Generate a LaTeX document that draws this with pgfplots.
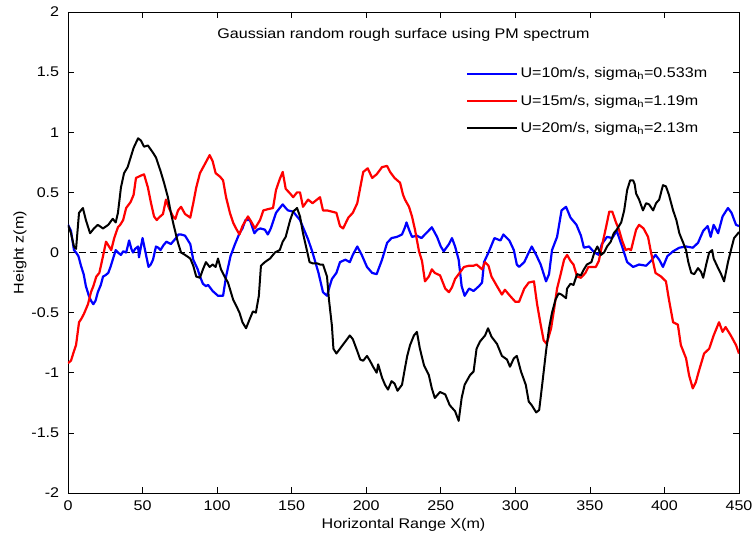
\documentclass[border=0pt]{standalone}
\usepackage{fontspec}
\setmainfont{Liberation Sans}[FakeStretch=1.15]
\usepackage{pgfplots}
\pgfplotsset{compat=1.18}
\definecolor{mblue}{RGB}{0,0,255}
\definecolor{mred}{RGB}{255,0,0}
\begin{document}
\fontsize{14}{16}\selectfont
\begin{tikzpicture}
\begin{axis}[
  at={(0pt,0pt)}, anchor=south west,
  scale only axis, width=671pt, height=481pt,
  xmin=0, xmax=450, ymin=-2, ymax=2,
  xtick={0,50,...,450}, ytick={-2,-1.5,...,2},
  tick align=inside, major tick length=6pt,
  tick style={line width=0.6pt, black},
  axis line style={line width=0.8pt},
  ticklabel style={font=\fontsize{14}{16}\selectfont},
  xticklabel style={yshift=-3pt},
  yticklabel style={/pgf/number format/fixed, xshift=-4pt},
  /pgf/number format/assume math mode=true,
  xlabel={Horizontal Range X(m)},
  ylabel={Height z(m)},
  label style={font=\fontsize{14}{16}\selectfont},
  xlabel style={at={(axis description cs:0.5,0)}, anchor=center, yshift=-32pt},
  ylabel style={at={(axis description cs:-0.0715,0.5)}, anchor=center},
  legend style={draw=none, fill=none, at={(axis cs:265,1.572)}, anchor=north west,
    row sep=11pt, font=\fontsize{14}{16}\selectfont},
  legend cell align=left,
  legend image code/.code={\draw[#1] (0pt,0pt) -- (50pt,0pt);},
]
\addplot[black, line width=0.7pt, dash pattern=on 7pt off 4pt, forget plot] coordinates {(0,0)(450,0)};
\addplot[mblue, line width=2.2pt, line join=round] coordinates {
(0,0.23)(2,0.18)(4,0.02)(5.4,0)(7,-0.03)(8.7,-0.11)(10.5,-0.18)(12,-0.28)(14,-0.36)(15.4,-0.40)(17,-0.43)(18.5,-0.40)(20,-0.33)(22,-0.27)(23.5,-0.2)(25,-0.19)(27,-0.17)(28.5,-0.12)(30,-0.06)(32,0.02)(33.5,0)(35.5,-0.02)(37,0.01)(39,0)(41,0.1)(42.5,0.03)(43.6,0)(45,0.03)(47,0.05)(47.6,-0.04)(50,0.12)(52,0)(54,-0.12)(55.5,-0.1)(57,-0.06)(59,0.05)(60.5,0.04)(62,0.02)(64,0.06)(66,0.09)(69,0.07)(72.4,0.12)(74,0.15)(75.8,0.15)(78.5,0.14)(80.5,0.1)(82,0.07)(84,-0.06)(87,-0.14)(88.5,-0.2)(90.5,-0.26)(92.5,-0.28)(94,-0.27)(97,-0.32)(100.6,-0.36)(104,-0.36)(106,-0.2)(109,-0.03)(112,0.07)(115,0.16)(117,0.2)(119,0.27)(122,0.27)(125,0.16)(127,0.19)(129,0.2)(132,0.19)(134,0.15)(136,0.2)(139.5,0.33)(142,0.37)(144,0.4)(146,0.37)(147.5,0.35)(151,0.34)(153.6,0.30)(155.6,0.27)(157.6,0.21)(161,0.11)(164,0)(168,-0.17)(171,-0.33)(173.7,-0.36)(175.5,-0.28)(177,-0.22)(180,-0.17)(182.4,-0.08)(186,-0.06)(189,-0.08)(191,-0.02)(194,0.05)(197,-0.02)(200.5,-0.12)(204,-0.17)(207,-0.18)(210.6,-0.06)(214,0.08)(217,0.12)(220.6,0.13)(224,0.15)(226,0.21)(227,0.25)(229,0.18)(230.7,0.13)(234,0.14)(237,0.12)(241,0.17)(244,0.21)(247.5,0.13)(250,0.05)(252,0.01)(255.5,0.07)(257.5,0.12)(259.6,0.05)(262,-0.06)(264,-0.28)(266,-0.36)(269,-0.3)(272,-0.32)(275.6,-0.28)(277.7,-0.25)(279,-0.08)(282,0)(286,0.12)(290,0.1)(292,0.15)(296,0.1)(299,0.02)(301,-0.1)(302.5,-0.12)(306,-0.08)(309,0)(311,0.05)(314,-0.02)(317,-0.1)(320.6,-0.24)(322.6,-0.18)(324.6,0.02)(328,0.13)(331,0.35)(334,0.38)(337,0.29)(341,0.23)(344,0.14)(346,0.04)(349.4,0.05)(353,0)(356,-0.02)(358,0.07)(361.5,0.13)(365,0.12)(368,0.18)(371.6,0.05)(375,-0.08)(379,-0.12)(383,-0.1)(387.7,-0.11)(391,-0.07)(394,-0.02)(396.5,-0.06)(399,-0.12)(402,-0.03)(405.8,0.01)(410,0.04)(414.5,0.05)(419,0.04)(422.5,0.08)(426,0.18)(429,0.22)(431,0.13)(433,0.23)(436,0.16)(439,0.3)(442.6,0.37)(445,0.33)(448,0.23)(450,0.22)
};
\addlegendentry{U=10m/s, sigma\textsubscript{h}=0.533m}
\addplot[mred, line width=2.2pt, line join=round] coordinates {
(0,-0.92)(2,-0.9)(4,-0.82)(5.4,-0.77)(7.4,-0.58)(9,-0.55)(10.7,-0.51)(13.4,-0.43)(15.4,-0.33)(17,-0.28)(19,-0.2)(21,-0.17)(23.5,-0.03)(25.5,0.09)(27.5,0.05)(29,0.02)(31,0.12)(33.5,0.21)(35,0.23)(37,0.27)(39,0.37)(42,0.42)(44,0.48)(45.6,0.62)(49,0.64)(51,0.65)(53.6,0.54)(55.7,0.41)(57.7,0.30)(59.5,0.27)(61,0.29)(63.7,0.32)(65.7,0.44)(67.7,0.37)(70.4,0.3)(72,0.28)(73.8,0.35)(75.8,0.38)(78.5,0.32)(82,0.29)(84,0.41)(86,0.54)(88.5,0.66)(92,0.74)(95,0.81)(97,0.76)(99,0.66)(102,0.63)(104,0.6)(106,0.46)(108.6,0.33)(110.7,0.25)(112.7,0.2)(115,0.15)(117,0.22)(120.7,0.3)(122.7,0.26)(125.4,0.2)(128.8,0.27)(131,0.35)(134,0.36)(137.5,0.37)(139.5,0.52)(142,0.61)(144,0.67)(146,0.53)(149,0.49)(151,0.46)(153.6,0.5)(155.6,0.5)(157.6,0.38)(161,0.44)(164,0.41)(167,0.44)(169,0.46)(171,0.35)(173.7,0.35)(177,0.34)(180,0.33)(182.4,0.22)(184.5,0.2)(188,0.29)(191,0.33)(194,0.41)(196,0.54)(198,0.67)(201,0.7)(204,0.62)(207,0.65)(210.6,0.71)(214,0.72)(216,0.67)(219,0.62)(222.7,0.58)(224.7,0.48)(226,0.44)(228.7,0.38)(230.7,0.3)(232.7,0.19)(235.4,0.01)(237.4,-0.07)(239.4,-0.24)(242,-0.2)(244,-0.14)(246,-0.17)(249.5,-0.19)(253,-0.3)(255.5,-0.33)(257.5,-0.29)(259.6,-0.22)(262,-0.18)(265.6,-0.12)(269,-0.11)(272,-0.11)(274,-0.1)(277.7,-0.14)(279.7,-0.08)(282,-0.11)(284,-0.2)(287.7,-0.28)(291,-0.35)(293,-0.31)(296.4,-0.36)(300,-0.41)(302.5,-0.41)(306,-0.3)(309,-0.25)(312.5,-0.24)(314.6,-0.43)(317,-0.6)(319,-0.73)(321,-0.76)(324,-0.63)(326,-0.47)(328,-0.3)(330.6,-0.17)(332.7,-0.06)(334.7,-0.02)(337,-0.07)(339,-0.1)(341.4,-0.2)(344,-0.21)(347,-0.17)(349,-0.12)(351.4,-0.12)(354,-0.12)(356,-0.07)(358,0.05)(361,0.22)(363,0.34)(365,0.34)(367.5,0.25)(369.5,0.19)(371.6,0.1)(374,0.02)(376,0.03)(377.6,0.02)(381,0.19)(383,0.23)(386,0.2)(389,0.13)(391,0)(394,-0.17)(397.7,-0.2)(401,-0.24)(403,-0.39)(405.8,-0.58)(409,-0.6)(411,-0.77)(414.5,-0.88)(416.5,-1.02)(419,-1.13)(421,-1.08)(423,-0.99)(426.6,-0.84)(430,-0.8)(433,-0.69)(436.6,-0.58)(439,-0.66)(441,-0.62)(444.5,-0.69)(448,-0.77)(450,-0.84)
};
\addlegendentry{U=15m/s, sigma\textsubscript{h}=1.19m}
\addplot[black, line width=2.0pt, line join=round] coordinates {
(0,0.23)(2,0.16)(4,0.05)(5.4,0.03)(7.4,0.33)(10,0.37)(12,0.27)(14.8,0.16)(17.4,0.2)(20,0.23)(23.5,0.2)(27,0.23)(30,0.28)(32,0.25)(33.5,0.33)(35.5,0.54)(37.6,0.66)(40,0.71)(42,0.79)(44,0.87)(47,0.95)(49,0.93)(51,0.88)(53.6,0.89)(57,0.83)(59,0.79)(62,0.68)(64.4,0.58)(67,0.46)(69,0.33)(71,0.22)(73.8,0.08)(75.8,0)(78.5,-0.02)(82,-0.05)(84,-0.11)(86,-0.2)(88.5,-0.21)(90.5,-0.14)(92.5,-0.08)(95,-0.12)(97,-0.1)(99,-0.12)(100.6,-0.05)(102.6,-0.14)(105,-0.2)(107.3,-0.25)(110.7,-0.39)(112.7,-0.44)(115,-0.5)(117,-0.58)(119.4,-0.63)(122,-0.55)(124,-0.49)(126,-0.5)(128,-0.36)(129.4,-0.11)(132,-0.08)(135.5,-0.05)(138.8,0)(142,0.02)(144,0.09)(146,0.13)(149,0.27)(151,0.34)(153.6,0.37)(155.6,0.3)(157.6,0.16)(160,0.03)(162,-0.08)(164,-0.09)(167,-0.09)(169,-0.1)(171,-0.1)(173.7,-0.2)(175,-0.39)(177,-0.61)(178,-0.8)(180,-0.84)(182.4,-0.8)(186,-0.74)(189,-0.69)(191,-0.72)(194,-0.82)(196,-0.89)(198,-0.9)(200.5,-0.86)(202.5,-0.9)(204.6,-0.95)(207,-1.0)(208,-0.93)(210.6,-1.04)(212.6,-1.1)(214.6,-1.14)(217,-1.07)(219,-1.09)(221,-1.15)(224,-1.1)(226,-0.96)(227.5,-0.86)(229.4,-0.77)(232,-0.69)(234,-0.66)(236,-0.8)(238.8,-0.94)(242,-1.02)(244,-1.13)(246,-1.21)(249.5,-1.16)(253,-1.18)(256,-1.27)(259.6,-1.32)(262,-1.4)(264,-1.21)(266,-1.1)(269.6,-1.02)(272,-0.99)(274,-0.8)(276.3,-0.74)(279.7,-0.69)(281.7,-0.63)(284,-0.7)(287.7,-0.76)(291,-0.86)(294.4,-0.89)(296.4,-0.95)(299,-0.88)(301,-0.86)(303.8,-0.99)(307,-1.1)(309,-1.24)(311,-1.27)(314,-1.33)(316,-1.31)(318,-1.1)(320.6,-0.82)(322.6,-0.63)(324.6,-0.5)(327,-0.39)(329,-0.34)(331,-0.35)(334,-0.38)(334.7,-0.3)(337,-0.26)(339,-0.27)(341.4,-0.18)(344,-0.19)(346,-0.14)(348,-0.1)(351,-0.08)(353,0)(355,0.05)(357.5,-0.02)(359.5,0)(361.5,0.05)(364,0.09)(366,0.16)(368,0.19)(371,0.25)(373,0.35)(375,0.52)(377,0.6)(379,0.6)(380,0.57)(381,0.49)(383,0.44)(385.6,0.35)(387.7,0.41)(389.7,0.4)(392.4,0.35)(394.4,0.41)(396.5,0.44)(399,0.56)(401,0.55)(403,0.48)(405.8,0.35)(408,0.27)(410,0.16)(412.6,0.08)(414.5,0.02)(416,-0.08)(418,-0.17)(420,-0.18)(422.5,-0.13)(424.5,-0.16)(426,-0.21)(428,-0.1)(430,0)(432,0.02)(433,-0.05)(436,-0.13)(438,-0.18)(440,-0.24)(442.6,-0.08)(444.6,0.02)(446.7,0.12)(449.4,0.16)(450,0.17)
};
\addlegendentry{U=20m/s, sigma\textsubscript{h}=2.13m}
\node[font=\fontsize{14}{16}\selectfont] at (axis cs:225,1.81) {Gaussian random rough surface using PM spectrum};
\end{axis}
\pgfresetboundingbox
\path (-68pt,-49pt) rectangle (685pt,493pt);
\end{tikzpicture}
\end{document}
